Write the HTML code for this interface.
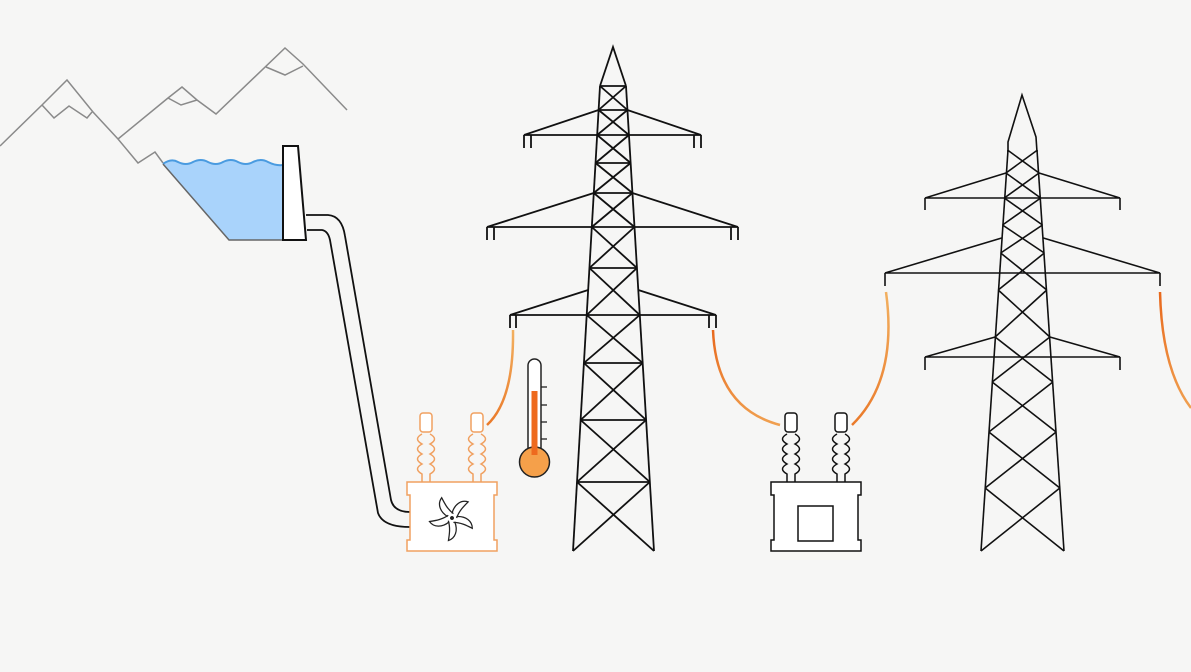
<!DOCTYPE html>
<html><head><meta charset="utf-8"><style>
html,body{margin:0;padding:0;background:#f6f6f5;}
svg{display:block}
</style></head><body>
<svg id="s" width="1191" height="672" viewBox="0 0 1191 672" xmlns="http://www.w3.org/2000/svg">
<defs>
<linearGradient id="og" x1="0" y1="0" x2="0" y2="1"><stop offset="0" stop-color="#f2b060"/><stop offset="1" stop-color="#ea7a2a"/></linearGradient>
<linearGradient id="og2" x1="0" y1="0" x2="0" y2="1"><stop offset="0" stop-color="#e8681c"/><stop offset="1" stop-color="#f0a050"/></linearGradient>
</defs>
<rect width="1191" height="672" fill="#f6f6f5"/>
<g fill="none" stroke="#8a8a8a" stroke-width="1.5">
<polyline points="0,146 42,105 67,80 93,112 118,139 138,163 155,152 163,163"/>
<polyline points="118,139 168,98 182,87 197,100 216,114 285,48 303,64 347,110"/>
<polyline points="42,105 54,118 69,106 87,118 92,112"/>
<polyline points="168,98 181,105 197,100"/>
<polyline points="266,67 285,75 303,66"/>
</g>
<path d="M163,164 Q171,158 178,162 Q186,166 193,162 Q201,158 208,162 Q216,166 223,162 Q231,158 238,162 Q246,166 253,162 Q261,158 268,162 Q276,166 283,165 L283,240 L229,240 Z" fill="#a9d3fb"/>
<path d="M163,164 Q171,158 178,162 Q186,166 193,162 Q201,158 208,162 Q216,166 223,162 Q231,158 238,162 Q246,166 253,162 Q261,158 268,162 Q276,166 283,165" fill="none" stroke="#4a9be0" stroke-width="2"/>
<path d="M163,164 L229,240 L283,240" fill="none" stroke="#666" stroke-width="1.5"/>
<path d="M283,146 L298,146 L306,240 L283,240 Z" fill="#fff" stroke="#111" stroke-width="2"/>
<path d="M306,215 H328 Q342,216 345,236 L391,500 Q394,512 410,512" fill="none" stroke="#111" stroke-width="1.8"/>
<path d="M307,230 H322 Q328,231 330,240 L378,513 Q383,527 410,527" fill="none" stroke="#111" stroke-width="1.8"/>
<path d="M513,330 Q514,400 487,425" fill="none" stroke="url(#og)" stroke-width="2.5"/>
<path d="M713,330 Q716,408 780,425" fill="none" stroke="url(#og2)" stroke-width="2.5"/>
<path d="M886,292 Q898,380 852,425" fill="none" stroke="url(#og)" stroke-width="2.5"/>
<path d="M1160,292 Q1162,370 1191,408" fill="none" stroke="url(#og2)" stroke-width="2.5"/>
<g id="t1" fill="none" stroke="#111" stroke-width="1.8"></g>
<g id="t2" fill="none" stroke="#111" stroke-width="1.6"></g>
<g fill="#fff" stroke="#f0a060" stroke-width="1.5">
<path d="M407,482 H497 V495 H494 V540 H497 V551 H407 V540 H410 V495 H407 Z"/>
<rect x="420" y="413" width="12" height="19" rx="3"/>
<rect x="471" y="413" width="12" height="19" rx="3"/>
</g>
<g fill="none" stroke="#f0a060" stroke-width="1.5">
<path d="M422,434 q-9,5 0,10 q-9,5 0,10 q-9,5 0,10 q-9,5 0,10 l0,8 M430,434 q9,5 0,10 q9,5 0,10 q9,5 0,10 q9,5 0,10 l0,8"/>
<path d="M473,434 q-9,5 0,10 q-9,5 0,10 q-9,5 0,10 q-9,5 0,10 l0,8 M481,434 q9,5 0,10 q9,5 0,10 q9,5 0,10 q9,5 0,10 l0,8"/>
</g>
<g transform="translate(452,518) scale(1.15)" fill="none" stroke="#222" stroke-width="1.1">
<path id="bl" d="M0,-4 C2,-12 8,-16 14,-14 C10,-10 6,-6 4,0"/>
<use href="#bl" transform="rotate(72)"/><use href="#bl" transform="rotate(144)"/><use href="#bl" transform="rotate(216)"/><use href="#bl" transform="rotate(288)"/>
<circle r="1.2" fill="#222"/>
</g>
<g>
<rect x="528" y="359" width="13" height="95" rx="6.5" fill="#fff" stroke="#222" stroke-width="1.5"/>
<circle cx="534.5" cy="462" r="15" fill="#f5a04a" stroke="#222" stroke-width="1.5"/>
<rect x="531.5" y="391" width="6" height="64" fill="#ee6a1e"/>
<g stroke="#222" stroke-width="1.3"><line x1="541" y1="387" x2="547" y2="387"/><line x1="541" y1="405" x2="547" y2="405"/><line x1="541" y1="422" x2="547" y2="422"/><line x1="541" y1="439" x2="547" y2="439"/></g>
</g>
<g fill="#fff" stroke="#111" stroke-width="1.5">
<path d="M771,482 H861 V495 H858 V540 H861 V551 H771 V540 H774 V495 H771 Z"/>
<rect x="798" y="506" width="35" height="35"/>
<rect x="785" y="413" width="12" height="19" rx="3"/>
<rect x="835" y="413" width="12" height="19" rx="3"/>
</g>
<g fill="none" stroke="#111" stroke-width="1.5">
<path d="M787,434 q-9,5 0,10 q-9,5 0,10 q-9,5 0,10 q-9,5 0,10 l0,8 M795,434 q9,5 0,10 q9,5 0,10 q9,5 0,10 q9,5 0,10 l0,8"/>
<path d="M837,434 q-9,5 0,10 q-9,5 0,10 q-9,5 0,10 q-9,5 0,10 l0,8 M845,434 q9,5 0,10 q9,5 0,10 q9,5 0,10 q9,5 0,10 l0,8"/>
</g>
</svg>
<script>
function L(g,a,b,c,d){g.innerHTML+='<line x1="'+a+'" y1="'+b+'" x2="'+c+'" y2="'+d+'"/>';}
function P(g,pts){g.innerHTML+='<polyline points="'+pts+'"/>';}
var g=document.getElementById('t1');
function l1(y){return 600-27*(y-86)/465;} function r1(y){return 626+28*(y-86)/465;}
P(g,'600,86 613,47 626,86');
L(g,600,86,573,551);L(g,626,86,654,551);
var lv=[86,110,135,163,193,227,268,315,363,420,482,551];
for(var i=0;i<lv.length;i++){ if(i<lv.length-1)L(g,l1(lv[i]),lv[i],r1(lv[i]),lv[i]);
 if(i>0){L(g,l1(lv[i-1]),lv[i-1],r1(lv[i]),lv[i]);L(g,r1(lv[i-1]),lv[i-1],l1(lv[i]),lv[i]);}}
P(g,l1(110)+',110 524,135 '+l1(135)+',135');P(g,r1(110)+',110 701,135 '+r1(135)+',135');
L(g,524,135,524,148);L(g,531,135,531,148);L(g,694,135,694,148);L(g,701,135,701,148);
P(g,l1(193)+',193 487,227 '+l1(227)+',227');P(g,r1(193)+',193 738,227 '+r1(227)+',227');
L(g,487,227,487,240);L(g,494,227,494,240);L(g,731,227,731,240);L(g,738,227,738,240);
P(g,l1(290)+',290 510,315 '+l1(315)+',315');P(g,r1(290)+',290 716,315 '+r1(315)+',315');
L(g,510,315,510,328);L(g,516,315,516,328);L(g,709,315,709,328);L(g,716,315,716,328);
var h=document.getElementById('t2');
function l2(y){return 1008-27*(y-142)/409;} function r2(y){return 1037+27*(y-142)/409;}
P(h,'1008,152 1008,142 1022,95 1036,137 1037,152');
L(h,1008,150,981,551);L(h,1037,150,1064,551);
var lw=[150,173,198,225,253,290,337,382,432,488,551];
for(var i=1;i<lw.length;i++){L(h,l2(lw[i-1]),lw[i-1],r2(lw[i]),lw[i]);L(h,r2(lw[i-1]),lw[i-1],l2(lw[i]),lw[i]);}
P(h,l2(173)+',173 925,198 1120,198 '+r2(173)+',173');L(h,925,198,925,210);L(h,1120,198,1120,210);
P(h,l2(238)+',238 885,273 1160,273 '+r2(238)+',238');L(h,885,273,885,286);L(h,1160,273,1160,286);
P(h,l2(337)+',337 925,357 1120,357 '+r2(337)+',337');L(h,925,357,925,370);L(h,1120,357,1120,370);
</script>
</body></html>
